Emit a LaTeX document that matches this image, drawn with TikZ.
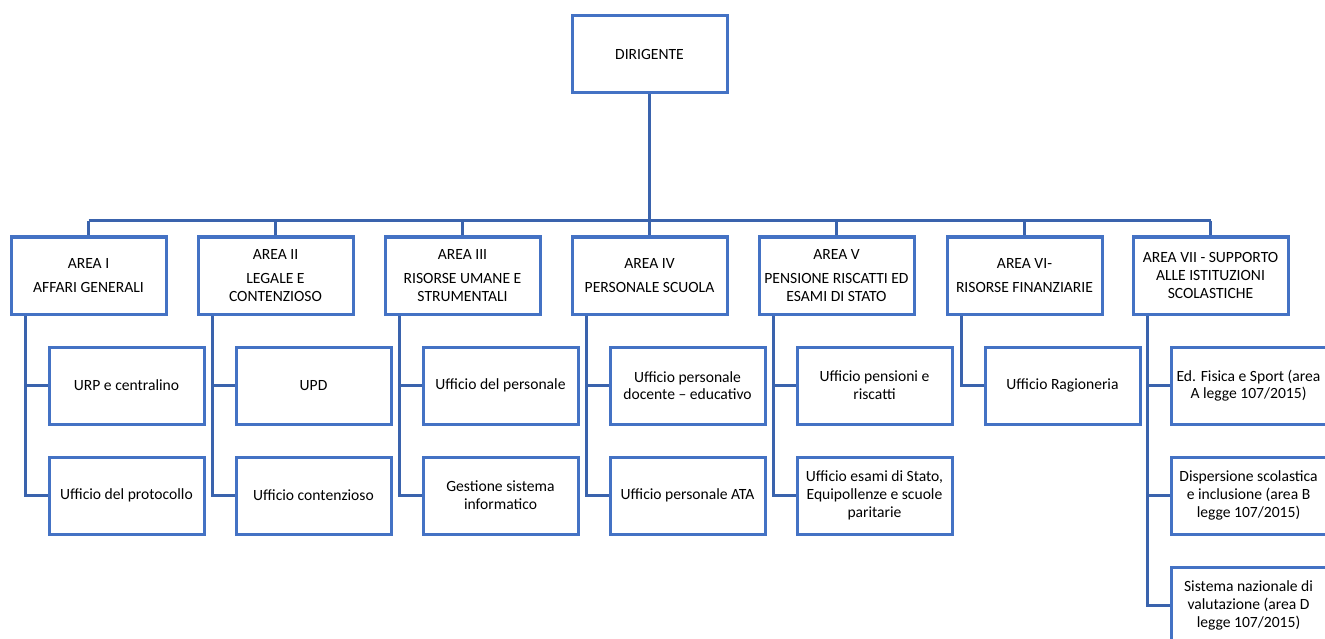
\documentclass[tikz,border=0pt]{standalone}
\usepackage{fontspec}
\setmainfont{Carlito}
\definecolor{boxblue}{HTML}{4472C4}
\definecolor{lineblue}{HTML}{3A63AD}
\begin{document}
\begin{tikzpicture}[x=1pt,y=-1pt,
  box/.style={draw=boxblue,line width=3pt,fill=white,minimum width=155pt,minimum height=77pt,
    inner sep=2pt,align=center,font=\fontsize{15.6}{17.7}\selectfont},
  conn/.style={draw=lineblue,line width=3pt}]
\useasboundingbox (0,0) rectangle (1325,639);
\fill[white] (0,0) rectangle (1325,639);

\node[box] (dir) at (649.5,54.5) {DIRIGENTE};

\node[box] (a1) at (88.5,275.5) {AREA I\\[6pt]AFFARI GENERALI};
\node[box] (a2) at (275.5,275.5) {AREA II\\[6pt]LEGALE E\\CONTENZIOSO};
\node[box] (a3) at (462.5,275.5) {AREA III\\[6pt]RISORSE UMANE E\\STRUMENTALI};
\node[box] (a4) at (649.5,275.5) {AREA IV\\[6pt]PERSONALE SCUOLA};
\node[box] (a5) at (836.5,275.5) {AREA V\\[6pt]PENSIONE RISCATTI ED\\ESAMI DI STATO};
\node[box] (a6) at (1024.5,275.5) {AREA VI-\\[6pt]RISORSE FINANZIARIE};
\node[box] (a7) at (1210.5,275.5) {AREA VII - SUPPORTO\\ALLE ISTITUZIONI\\SCOLASTICHE};

\node[box] (c11) at (126.5,385.5) {URP e centralino};
\node[box] (c12) at (126.5,495.5) {Ufficio del protocollo};
\node[box] (c21) at (313.5,385.5) {UPD};
\node[box] (c22) at (313.5,495.5) {Ufficio contenzioso};
\node[box] (c31) at (500.5,385.5) {Ufficio del personale};
\node[box] (c32) at (500.5,495.5) {Gestione sistema\\informatico};
\node[box] (c41) at (687.5,385.5) {Ufficio personale\\docente – educativo};
\node[box] (c42) at (687.5,495.5) {Ufficio personale ATA};
\node[box] (c51) at (874.5,385.5) {Ufficio pensioni e\\riscatti};
\node[box] (c52) at (874.5,495.5) {Ufficio esami di Stato,\\Equipollenze e scuole\\paritarie};
\node[box] (c61) at (1062.5,385.5) {Ufficio Ragioneria};
\node[box] (c71) at (1248.5,385.5) {Ed. Fisica e Sport (area\\A legge 107/2015)};
\node[box] (c72) at (1248.5,495.5) {Dispersione scolastica\\e inclusione (area B\\legge 107/2015)};
\node[box] (c73) at (1248.5,605.5) {Sistema nazionale di\\valutazione (area D\\legge 107/2015)};

\coordinate (busL) at (88.5,221);
\coordinate (busR) at (1210.5,221);
\draw[conn] (dir.south) -- (dir.south |- busL);
\draw[conn] (busL) -- (busR);
\foreach \a in {a1,a2,a3,a4,a5,a6,a7}{
  \draw[conn] (\a.north |- busL) -- (\a.north);
}
\foreach \a/\last/\list in {a1/c12/{c11,c12},a2/c22/{c21,c22},a3/c32/{c31,c32},a4/c42/{c41,c42},a5/c52/{c51,c52},a6/c61/{c61},a7/c73/{c71,c72,c73}}{
  \coordinate (v) at ([xshift=16pt]\a.south west);
  \draw[conn] (v) -- (v |- \last.west) -- (\last.west);
  \foreach \c in \list {
    \draw[conn] (v |- \c.west) -- (\c.west);
  }
}
\end{tikzpicture}
\end{document}
